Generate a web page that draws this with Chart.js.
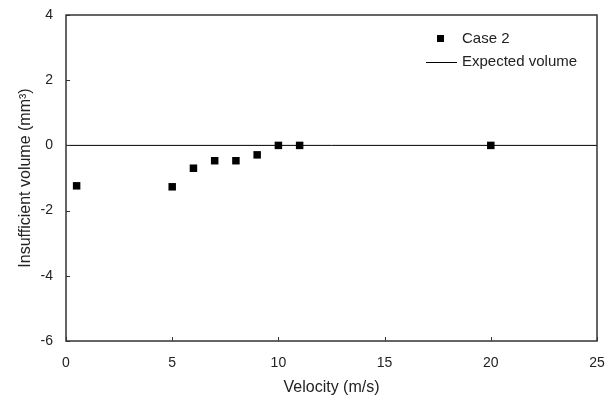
<!DOCTYPE html>
<html><head><meta charset="utf-8">
<script src="https://cdn.jsdelivr.net/npm/chart.js@4/dist/chart.umd.min.js"></script>
<style>html,body{margin:0;padding:0;background:#fff}#wrap{width:614px;height:399px}</style>
</head><body><div id="wrap"><canvas id="c" width="614" height="399"></canvas></div>
<script>
const velocity = [0.5, 5, 6, 7, 8, 9, 10, 11, 20];
const insufficientVolume = [-1.24, -1.27, -0.70, -0.47, -0.47, -0.29, 0, 0, 0];
const expectedX = [0, 25];
const expectedY = [0, 0];
const xTicks = [0, 5, 10, 15, 20, 25];
const yTicks = [-6, -4, -2, 0, 2, 4];
const seriesNames = ['Case 2', 'Expected volume'];

const FONT = '"Liberation Sans", Arial, sans-serif';
const TXT = '#222';
const AX = '#333';

const frame = {
  id: 'frame',
  afterDraw(chart) {
    const {ctx, chartArea: a, scales: {x, y}} = chart;
    ctx.save();
    ctx.strokeStyle = AX; ctx.lineWidth = 1.5;
    ctx.strokeRect(a.left, a.top, a.right - a.left, a.bottom - a.top);
    ctx.lineWidth = 1;
    xTicks.forEach(v => { const px = Math.round(x.getPixelForValue(v)) + 0.5; ctx.beginPath(); ctx.moveTo(px, a.bottom); ctx.lineTo(px, a.bottom - 4); ctx.stroke(); });
    yTicks.forEach(v => { const py = Math.round(y.getPixelForValue(v)) + 0.5; ctx.beginPath(); ctx.moveTo(a.left, py); ctx.lineTo(a.left + 4, py); ctx.stroke(); });
    // legend
    ctx.font = '15px ' + FONT; ctx.textBaseline = 'middle';
    ctx.fillStyle = '#000';
    ctx.fillRect(437, 35, 7, 7);
    ctx.fillStyle = TXT;
    ctx.fillText(seriesNames[0], 462, 39);
    ctx.strokeStyle = '#000'; ctx.lineWidth = 1;
    ctx.beginPath(); ctx.moveTo(426, 62.5); ctx.lineTo(457, 62.5); ctx.stroke();
    ctx.fillText(seriesNames[1], 462, 62);
    ctx.restore();
  }
};

new Chart(document.getElementById('c'), {
  type: 'scatter',
  data: {
    datasets: [
      { label: seriesNames[1], type: 'line', data: expectedX.map((v, i) => ({x: v, y: expectedY[i]})),
        borderColor: '#000', borderWidth: 1, pointRadius: 0, fill: false, order: 2 },
      { label: seriesNames[0], data: velocity.map((v, i) => ({x: v, y: insufficientVolume[i]})),
        pointStyle: 'rect', pointRadius: 5.3, backgroundColor: '#000', borderColor: '#000', borderWidth: 0, order: 1 }
    ]
  },
  options: {
    responsive: false, animation: false, devicePixelRatio: 1,
    layout: { padding: { top: 15, right: 17, left: 0, bottom: 0 } },
    plugins: { legend: { display: false }, tooltip: { enabled: false } },
    scales: {
      x: { type: 'linear', min: 0, max: 25,
        afterBuildTicks: s => { s.ticks = xTicks.map(v => ({value: v})); },
        afterFit: s => { s.height = 58; s.paddingLeft = 0; s.paddingRight = 0; },
        grid: { display: false, drawTicks: false }, border: { display: false },
        ticks: { color: TXT, font: { family: FONT, size: 14 }, padding: 14, maxRotation: 0 },
        title: { display: true, text: 'Velocity (m/s)', color: TXT, font: { family: FONT, size: 16 }, padding: { top: 0, bottom: 2 } } },
      y: { type: 'linear', min: -6, max: 4,
        afterBuildTicks: s => { s.ticks = yTicks.map(v => ({value: v})); },
        afterFit: s => { s.width = 66; s.paddingTop = 0; s.paddingBottom = 0; },
        grid: { display: false, drawTicks: false }, border: { display: false },
        ticks: { color: TXT, font: { family: FONT, size: 14 }, padding: 13 },
        title: { display: true, text: 'Insufficient volume (mm³)', color: TXT, font: { family: FONT, size: 16 }, padding: { top: 16, bottom: 0 } } }
    }
  },
  plugins: [frame]
});
</script></body></html>
